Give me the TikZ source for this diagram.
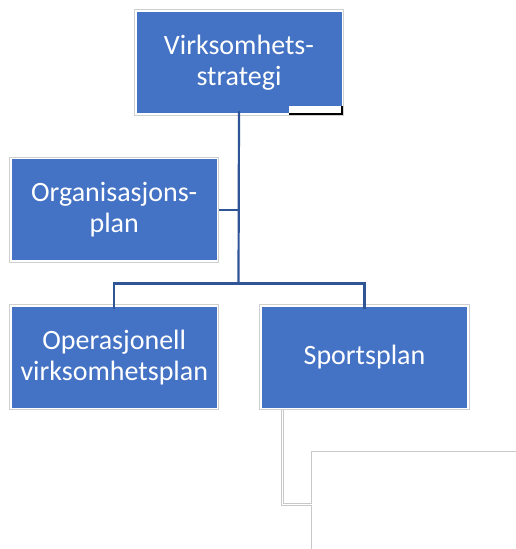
\documentclass[tikz,border=0pt]{standalone}
\usepackage{fontspec}
\setmainfont{Carlito}
\definecolor{boxblue}{HTML}{4472C4}
\definecolor{connblue}{HTML}{2F5597}
\definecolor{edgegray}{HTML}{D0D0D0}
\definecolor{faintgray}{HTML}{C8C8C8}
\begin{document}
\begin{tikzpicture}[x=1pt,y=-1pt,
  box/.style={fill=boxblue,text=white,minimum width=205pt,minimum height=101pt,inner sep=0pt,align=center,font=\fontsize{28}{31}\selectfont},
  conn/.style={draw=connblue,line width=2.2pt},
  frame/.style={draw=edgegray,line width=1pt},
  faint/.style={draw=faintgray,line width=1pt}]
\useasboundingbox (0,0) rectangle (516,549);
\node[box] (top) at (239,62.5) {Virksomhets-\\strategi};
\node[box] (org) at (114.25,209.75) {Organisasjons-\\plan};
\node[box] (op) at (114.25,357.25) {Operasjonell\\virksomhetsplan};
\node[box] (sport) at (364.5,357.25) {Sportsplan};
\foreach \n in {top,org,op,sport}{
  \draw[frame] ([shift={(-2,-2)}]\n.north west) rectangle ([shift={(2,2)}]\n.south east);
}
% white patch with black corner on top box
\fill[white] (289,106) rectangle (341.5,113.5);
\draw[black,line width=1.5pt] (289,114) -- (342,114) -- (342,106);
% connectors
\coordinate (j) at (238.5,283.5);
\coordinate (topout) at ([yshift=2]top.south);
\coordinate (opin) at ([yshift=-2]op.north);
\coordinate (spin) at ([yshift=-2]sport.north);
\coordinate (orgout) at ([xshift=2]org.east);
\draw[conn] (topout) -- (j);
\draw[conn] (opin) |- (j);
\draw[conn] (spin) |- (j);
\draw[conn] (orgout) -- (orgout -| j);
% faint gray outlines at bottom right
\coordinate (sb) at (281,410);
\draw[faint] (sb) -- (281,505) -- (311.5,505) -- (311.5,549);
\draw[faint] (283,410) -- (283,503) -- (311,503) -- (311,451) -- (516,451);
\end{tikzpicture}
\end{document}
